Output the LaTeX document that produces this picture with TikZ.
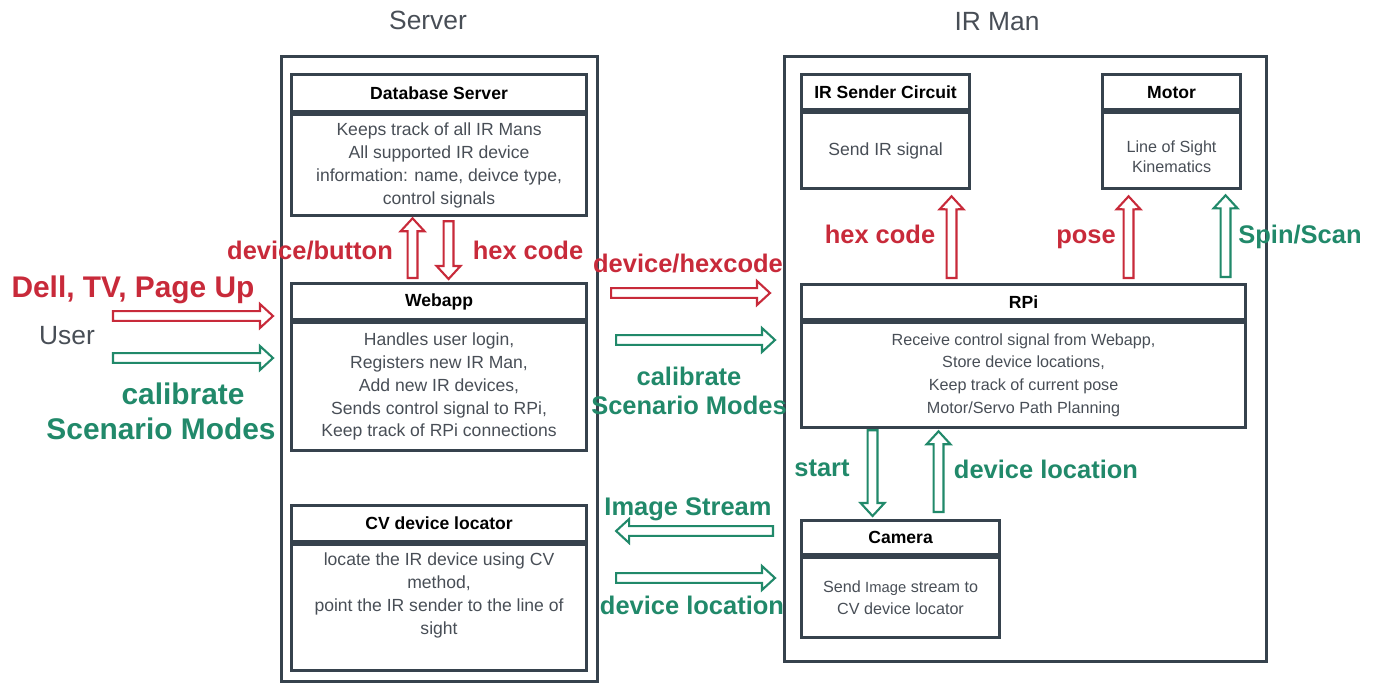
\documentclass[tikz,border=0pt]{standalone}
\usepackage{fontspec}
\setmainfont{Liberation Sans}
\usepackage{xcolor}
\usepackage{tikz}
\usetikzlibrary{calc}

\definecolor{boxgray}{RGB}{54,66,77}
\definecolor{txtgray}{RGB}{72,78,86}
\definecolor{irred}{RGB}{200,42,58}
\definecolor{irgreen}{RGB}{33,137,106}

\begin{document}
\begin{tikzpicture}[x=0.02cm, y=-0.02cm,
		outerbox/.style={draw=boxgray, line width=1.8pt, anchor=north west, inner sep=0pt},
		headbox/.style={draw=boxgray, line width=1.8pt, anchor=north west, inner sep=0pt, font=\fontsize{10}{12}\selectfont\bfseries},
		bodybox/.style={draw=boxgray, line width=1.8pt, anchor=north, inner sep=0pt, align=center, text=txtgray, font=\fontsize{10}{13}\selectfont},
		smallbody/.style={bodybox, font=\fontsize{9.2}{13}\selectfont},
		title/.style={text=txtgray, font=\fontsize{15}{18}\selectfont},
		biglabel/.style={font=\fontsize{17}{20}\selectfont\bfseries, text height=16pt, text depth=3.5pt},
		flowlabel/.style={font=\fontsize{14.5}{15.5}\selectfont\bfseries, text height=13.5pt, text depth=3pt},
		fat/.style={line width=1.2pt, fill=white, line join=miter,
			to path={($(\tikztostart)!2.8pt!90:(\tikztotarget)$)
				-- ($(\tikztotarget)!7.91pt!-20.7:(\tikztostart)$)
				-- ($(\tikztotarget)!10.05pt!-42.6:(\tikztostart)$)
				-- (\tikztotarget)
				-- ($(\tikztotarget)!10.05pt!42.6:(\tikztostart)$)
				-- ($(\tikztotarget)!7.91pt!20.7:(\tikztostart)$)
				-- ($(\tikztostart)!2.8pt!-90:(\tikztotarget)$) -- cycle}}
	]
	\useasboundingbox (0,0) rectangle (1380,683);
	
	%Titles
	\node[title] (servertitle) at (428,20) {Server};
	\node[title] (irmantitle) at (997,22) {IR Man};
	
	%Outer boxes
	\node[outerbox, minimum width=6.32cm, minimum height=12.5cm] (server) at (280,55) {};
	\node[outerbox, minimum width=9.64cm, minimum height=12.1cm] (irman) at (783,55) {};
	
	%Server side
	\node[headbox, minimum width=5.9cm, minimum height=0.74cm] (db) at (290,73) {Database Server};
	\node[bodybox, minimum width=5.9cm, minimum height=2.02cm] (dbbody) at (db.south)
		{Keeps track of all IR Mans\\All supported IR device\\information: name, deivce type,\\control signals};
	
	\node[headbox, minimum width=5.9cm, minimum height=0.72cm] (webapp) at (290,282) {Webapp};
	\node[bodybox, minimum width=5.9cm, minimum height=2.56cm] (webappbody) at (webapp.south)
		{Handles user login,\\Registers new IR Man,\\Add new IR devices,\\Sends control signal to RPi,\\Keep track of RPi connections};
	
	\node[headbox, minimum width=5.9cm, minimum height=0.72cm] (cv) at (290,504) {CV device locator};
	\node[bodybox, minimum width=5.9cm, minimum height=2.52cm, text depth=16pt] (cvbody) at (cv.south)
		{locate the IR device using CV\\method,\\point the IR sender to the line of\\sight};
	
	%IR Man side
	\node[headbox, minimum width=3.36cm, minimum height=0.7cm] (sender) at (800,73) {IR Sender Circuit};
	\node[bodybox, minimum width=3.36cm, minimum height=1.52cm] (senderbody) at (sender.south) {Send IR signal};
	
	\node[headbox, minimum width=2.76cm, minimum height=0.7cm] (motor) at (1101,73) {Motor};
	\node[smallbody, minimum width=2.76cm, minimum height=1.52cm, font=\fontsize{9.2}{11.5}\selectfont, text height=25pt] (motorbody) at (motor.south)
		{Line of Sight\\Kinematics};
	
	\node[headbox, minimum width=8.88cm, minimum height=0.7cm] (rpi) at (800,283) {RPi};
	\node[smallbody, minimum width=8.88cm, minimum height=2.1cm] (rpibody) at (rpi.south)
		{Receive control signal from Webapp,\\Store device locations,\\Keep track of current pose\\Motor/Servo Path Planning};
	
	\node[headbox, minimum width=3.96cm, minimum height=0.68cm] (camera) at (800,519) {Camera};
	\node[smallbody, minimum width=3.96cm, minimum height=1.6cm] (camerabody) at (camera.south)
		{Send {\fontsize{8.4}{13}\selectfont Image} stream to\\CV device locator};
	
	%User
	\node[title] (user) at (67,336) {User};
	\node[biglabel, text=irred] (userreq) at (133,287) {Dell, TV, Page Up};
	\node[biglabel, text=irgreen] (usercal) at (183,394) {calibrate};
	\node[biglabel, text=irgreen] (usermodes) at (161,429) {Scenario Modes};
	\coordinate (userredstart) at (113,316);
	\coordinate (usergreenstart) at (113,358);
	\draw[fat, draw=irred] (userredstart) to ([xshift=-0.14cm]userredstart -| server.west);
	\draw[fat, draw=irgreen] (usergreenstart) to ([xshift=-0.14cm]usergreenstart -| server.west);
	
	%Database <-> Webapp
	\node[flowlabel, text=irred] (dbreq) at (310,250) {device/button};
	\node[flowlabel, text=irred] (dbresp) at (528,250) {hex code};
	\draw[fat, draw=irred] ([xshift=-0.53cm, yshift=0.08cm]webapp.north) to ([xshift=-0.53cm, yshift=-0.02cm]dbbody.south);
	\draw[fat, draw=irred] ([xshift=0.19cm, yshift=-0.08cm]dbbody.south) to ([xshift=0.19cm, yshift=0.06cm]webapp.north);
	
	%Server <-> IR Man
	\coordinate (hexrow) at (0,293);
	\coordinate (calrow) at (0,340);
	\coordinate (imgrow) at (0,531);
	\coordinate (locrow) at (0,578);
	\node[flowlabel, text=irred] (hexreq) at (688,263) {device/hexcode};
	\node[flowlabel, text=irgreen, align=center, text height={}, text depth={}] (calreq) at (689,391) {calibrate\\[1pt]Scenario Modes};
	\node[flowlabel, text=irgreen] (imgreq) at (688,506) {Image Stream};
	\node[flowlabel, text=irgreen] (locresp) at (692,605) {device location};
	\draw[fat, draw=irred] ([xshift=0.24cm]server.east |- hexrow) to ([xshift=-0.26cm]irman.west |- hexrow);
	\draw[fat, draw=irgreen] ([xshift=0.34cm]server.east |- calrow) to ([xshift=-0.16cm]irman.west |- calrow);
	\draw[fat, draw=irgreen] ([xshift=-0.2cm]irman.west |- imgrow) to ([xshift=0.34cm]server.east |- imgrow);
	\draw[fat, draw=irgreen] ([xshift=0.34cm]server.east |- locrow) to ([xshift=-0.16cm]irman.west |- locrow);
	
	%RPi -> Sender, Motor
	\coordinate (hexup) at ([xshift=1.32cm, yshift=-0.12cm]senderbody.south);
	\coordinate (poseup) at ([xshift=-0.86cm, yshift=-0.12cm]motorbody.south);
	\coordinate (spinup) at ([xshift=1.08cm, yshift=-0.1cm]motorbody.south);
	\node[flowlabel, text=irred] (hexlbl) at (880,234) {hex code};
	\node[flowlabel, text=irred] (poselbl) at (1086,234) {pose};
	\node[flowlabel, text=irgreen] (spinlbl) at (1300,234) {Spin/Scan};
	\draw[fat, draw=irred] ([yshift=0.1cm]rpi.north -| hexup) to (hexup);
	\draw[fat, draw=irred] ([yshift=0.1cm]rpi.north -| poseup) to (poseup);
	\draw[fat, draw=irgreen] ([yshift=0.12cm]rpi.north -| spinup) to (spinup);
	
	%RPi <-> Camera
	\node[flowlabel, text=irgreen] (startlbl) at (822,467) {start};
	\node[flowlabel, text=irgreen] (loclbl) at (1046,469) {device location};
	\draw[fat, draw=irgreen] ([xshift=-0.56cm, yshift=-0.02cm]camera.north |- rpibody.south) to ([xshift=-0.56cm, yshift=0.06cm]camera.north);
	\draw[fat, draw=irgreen] ([xshift=0.76cm, yshift=0.14cm]camera.north) to ([xshift=0.76cm, yshift=-0.04cm]camera.north |- rpibody.south);
\end{tikzpicture}
\end{document}
